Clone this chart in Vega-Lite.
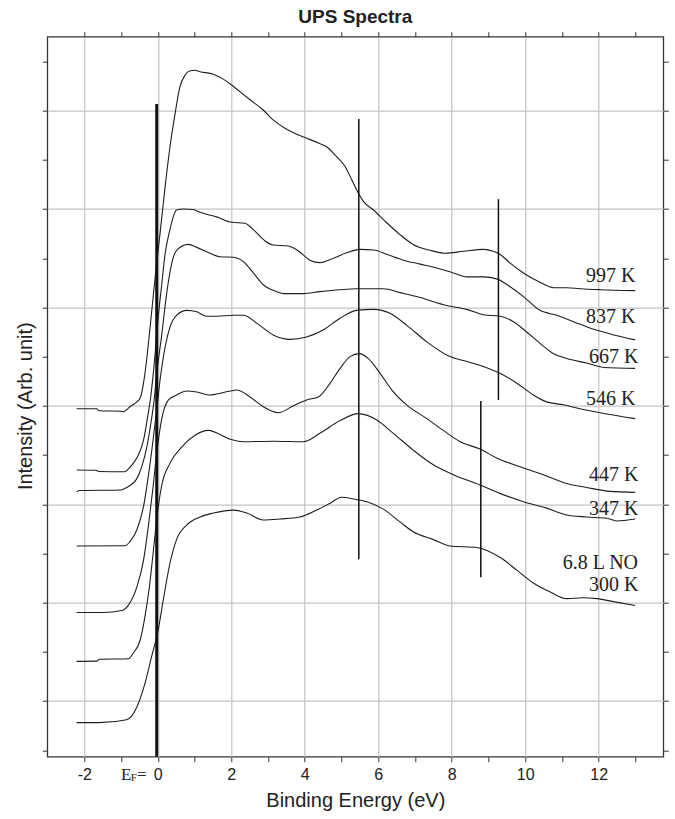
{
  "$schema": "https://vega.github.io/schema/vega-lite/v6.json",
  "width": 616,
  "height": 720,
  "autosize": {"type": "none"},
  "padding": {"left": 47.3, "top": 36.7, "right": 11.7, "bottom": 62.3},
  "background": "white",
  "title": {"text": "UPS Spectra", "font": "Liberation Sans", "fontSize": 19, "fontWeight": "bold", "color": "#222", "anchor": "middle", "offset": 4},
  "config": {
    "view": {"stroke": "#333", "strokeWidth": 1.3},
    "axis": {"labelFont": "Liberation Sans", "titleFont": "Liberation Sans", "tickColor": "#333", "tickWidth": 1, "gridColor": "#c4c4c4", "gridWidth": 1.2}
  },
  "datasets": {
    "spectra": [
      {"s": "997 K", "x": -2.21, "y": 2.97}, {"s": "997 K", "x": -1.66, "y": 2.97}, {"s": "997 K", "x": -1.6, "y": 2.95}, {"s": "997 K", "x": -1.0, "y": 2.945}, {"s": "997 K", "x": -0.94, "y": 2.94}, {"s": "997 K", "x": -0.85, "y": 2.96}, {"s": "997 K", "x": -0.76, "y": 2.99}, {"s": "997 K", "x": -0.57, "y": 3.04}, {"s": "997 K", "x": -0.48, "y": 3.08}, {"s": "997 K", "x": -0.35, "y": 3.33}, {"s": "997 K", "x": -0.21, "y": 3.8}, {"s": "997 K", "x": -0.08, "y": 4.28}, {"s": "997 K", "x": 0.06, "y": 4.75}, {"s": "997 K", "x": 0.2, "y": 5.23}, {"s": "997 K", "x": 0.33, "y": 5.63}, {"s": "997 K", "x": 0.47, "y": 5.97}, {"s": "997 K", "x": 0.6, "y": 6.24}, {"s": "997 K", "x": 0.74, "y": 6.36}, {"s": "997 K", "x": 0.88, "y": 6.405}, {"s": "997 K", "x": 1.0, "y": 6.41}, {"s": "997 K", "x": 1.15, "y": 6.395}, {"s": "997 K", "x": 1.51, "y": 6.37}, {"s": "997 K", "x": 1.78, "y": 6.32}, {"s": "997 K", "x": 2.01, "y": 6.26}, {"s": "997 K", "x": 2.24, "y": 6.19}, {"s": "997 K", "x": 2.51, "y": 6.11}, {"s": "997 K", "x": 2.87, "y": 6.006}, {"s": "997 K", "x": 3.14, "y": 5.905}, {"s": "997 K", "x": 3.46, "y": 5.82}, {"s": "997 K", "x": 3.78, "y": 5.76}, {"s": "997 K", "x": 4.05, "y": 5.72}, {"s": "997 K", "x": 4.37, "y": 5.67}, {"s": "997 K", "x": 4.64, "y": 5.62}, {"s": "997 K", "x": 4.82, "y": 5.55}, {"s": "997 K", "x": 5.1, "y": 5.43}, {"s": "997 K", "x": 5.28, "y": 5.295}, {"s": "997 K", "x": 5.46, "y": 5.16}, {"s": "997 K", "x": 5.59, "y": 5.08}, {"s": "997 K", "x": 5.87, "y": 4.99}, {"s": "997 K", "x": 6.23, "y": 4.86}, {"s": "997 K", "x": 6.59, "y": 4.74}, {"s": "997 K", "x": 6.95, "y": 4.64}, {"s": "997 K", "x": 7.41, "y": 4.58}, {"s": "997 K", "x": 7.82, "y": 4.55}, {"s": "997 K", "x": 8.32, "y": 4.57}, {"s": "997 K", "x": 8.86, "y": 4.59}, {"s": "997 K", "x": 9.13, "y": 4.57}, {"s": "997 K", "x": 9.31, "y": 4.54}, {"s": "997 K", "x": 9.59, "y": 4.45}, {"s": "997 K", "x": 9.95, "y": 4.35}, {"s": "997 K", "x": 10.4, "y": 4.255}, {"s": "997 K", "x": 10.77, "y": 4.2}, {"s": "997 K", "x": 11.13, "y": 4.2}, {"s": "997 K", "x": 11.49, "y": 4.19}, {"s": "997 K", "x": 12.04, "y": 4.18}, {"s": "997 K", "x": 12.99, "y": 4.17},

      {"s": "837 K", "x": -2.21, "y": 2.348}, {"s": "837 K", "x": -1.7, "y": 2.345}, {"s": "837 K", "x": -1.6, "y": 2.333}, {"s": "837 K", "x": -0.9, "y": 2.33}, {"s": "837 K", "x": -0.8, "y": 2.36}, {"s": "837 K", "x": -0.67, "y": 2.415}, {"s": "837 K", "x": -0.53, "y": 2.5}, {"s": "837 K", "x": -0.39, "y": 2.65}, {"s": "837 K", "x": -0.29, "y": 2.86}, {"s": "837 K", "x": -0.19, "y": 3.1}, {"s": "837 K", "x": -0.08, "y": 3.5}, {"s": "837 K", "x": 0.01, "y": 3.9}, {"s": "837 K", "x": 0.1, "y": 4.21}, {"s": "837 K", "x": 0.2, "y": 4.55}, {"s": "837 K", "x": 0.33, "y": 4.79}, {"s": "837 K", "x": 0.42, "y": 4.92}, {"s": "837 K", "x": 0.51, "y": 4.99}, {"s": "837 K", "x": 0.7, "y": 5.0}, {"s": "837 K", "x": 0.96, "y": 4.995}, {"s": "837 K", "x": 1.15, "y": 4.966}, {"s": "837 K", "x": 1.6, "y": 4.92}, {"s": "837 K", "x": 2.01, "y": 4.865}, {"s": "837 K", "x": 2.37, "y": 4.855}, {"s": "837 K", "x": 2.6, "y": 4.79}, {"s": "837 K", "x": 2.92, "y": 4.675}, {"s": "837 K", "x": 3.14, "y": 4.634}, {"s": "837 K", "x": 3.55, "y": 4.624}, {"s": "837 K", "x": 3.82, "y": 4.576}, {"s": "837 K", "x": 4.14, "y": 4.48}, {"s": "837 K", "x": 4.41, "y": 4.455}, {"s": "837 K", "x": 4.78, "y": 4.5}, {"s": "837 K", "x": 5.14, "y": 4.556}, {"s": "837 K", "x": 5.5, "y": 4.59}, {"s": "837 K", "x": 5.87, "y": 4.583}, {"s": "837 K", "x": 6.23, "y": 4.54}, {"s": "837 K", "x": 6.68, "y": 4.48}, {"s": "837 K", "x": 7.14, "y": 4.44}, {"s": "837 K", "x": 7.59, "y": 4.4}, {"s": "837 K", "x": 8.04, "y": 4.35}, {"s": "837 K", "x": 8.41, "y": 4.31}, {"s": "837 K", "x": 8.86, "y": 4.31}, {"s": "837 K", "x": 9.22, "y": 4.29}, {"s": "837 K", "x": 9.59, "y": 4.21}, {"s": "837 K", "x": 9.95, "y": 4.11}, {"s": "837 K", "x": 10.4, "y": 3.97}, {"s": "837 K", "x": 10.86, "y": 3.92}, {"s": "837 K", "x": 11.31, "y": 3.855}, {"s": "837 K", "x": 11.76, "y": 3.79}, {"s": "837 K", "x": 12.31, "y": 3.73}, {"s": "837 K", "x": 12.99, "y": 3.67},

      {"s": "667 K", "x": -2.21, "y": 2.13}, {"s": "667 K", "x": -2.1, "y": 2.14}, {"s": "667 K", "x": -1.0, "y": 2.145}, {"s": "667 K", "x": -0.9, "y": 2.16}, {"s": "667 K", "x": -0.76, "y": 2.19}, {"s": "667 K", "x": -0.57, "y": 2.26}, {"s": "667 K", "x": -0.44, "y": 2.38}, {"s": "667 K", "x": -0.3, "y": 2.58}, {"s": "667 K", "x": -0.19, "y": 2.82}, {"s": "667 K", "x": -0.1, "y": 3.06}, {"s": "667 K", "x": -0.03, "y": 3.33}, {"s": "667 K", "x": 0.1, "y": 3.7}, {"s": "667 K", "x": 0.24, "y": 4.14}, {"s": "667 K", "x": 0.38, "y": 4.45}, {"s": "667 K", "x": 0.51, "y": 4.58}, {"s": "667 K", "x": 0.83, "y": 4.64}, {"s": "667 K", "x": 1.06, "y": 4.61}, {"s": "667 K", "x": 1.42, "y": 4.55}, {"s": "667 K", "x": 1.69, "y": 4.515}, {"s": "667 K", "x": 2.06, "y": 4.51}, {"s": "667 K", "x": 2.33, "y": 4.465}, {"s": "667 K", "x": 2.6, "y": 4.35}, {"s": "667 K", "x": 2.87, "y": 4.23}, {"s": "667 K", "x": 3.24, "y": 4.16}, {"s": "667 K", "x": 3.42, "y": 4.14}, {"s": "667 K", "x": 3.96, "y": 4.14}, {"s": "667 K", "x": 4.41, "y": 4.16}, {"s": "667 K", "x": 4.96, "y": 4.18}, {"s": "667 K", "x": 5.41, "y": 4.19}, {"s": "667 K", "x": 6.14, "y": 4.19}, {"s": "667 K", "x": 6.59, "y": 4.15}, {"s": "667 K", "x": 7.14, "y": 4.1}, {"s": "667 K", "x": 7.86, "y": 4.02}, {"s": "667 K", "x": 8.41, "y": 3.98}, {"s": "667 K", "x": 8.86, "y": 3.925}, {"s": "667 K", "x": 9.31, "y": 3.91}, {"s": "667 K", "x": 9.68, "y": 3.855}, {"s": "667 K", "x": 10.04, "y": 3.75}, {"s": "667 K", "x": 10.4, "y": 3.635}, {"s": "667 K", "x": 10.77, "y": 3.53}, {"s": "667 K", "x": 11.13, "y": 3.48}, {"s": "667 K", "x": 11.67, "y": 3.435}, {"s": "667 K", "x": 12.13, "y": 3.39}, {"s": "667 K", "x": 12.99, "y": 3.38},

      {"s": "546 K", "x": -2.21, "y": 1.575}, {"s": "546 K", "x": -0.89, "y": 1.578}, {"s": "546 K", "x": -0.76, "y": 1.62}, {"s": "546 K", "x": -0.57, "y": 1.74}, {"s": "546 K", "x": -0.39, "y": 1.975}, {"s": "546 K", "x": -0.26, "y": 2.28}, {"s": "546 K", "x": -0.14, "y": 2.62}, {"s": "546 K", "x": -0.03, "y": 2.96}, {"s": "546 K", "x": 0.06, "y": 3.26}, {"s": "546 K", "x": 0.2, "y": 3.6}, {"s": "546 K", "x": 0.33, "y": 3.8}, {"s": "546 K", "x": 0.51, "y": 3.92}, {"s": "546 K", "x": 0.79, "y": 3.97}, {"s": "546 K", "x": 1.06, "y": 3.955}, {"s": "546 K", "x": 1.33, "y": 3.91}, {"s": "546 K", "x": 1.6, "y": 3.91}, {"s": "546 K", "x": 2.06, "y": 3.92}, {"s": "546 K", "x": 2.33, "y": 3.92}, {"s": "546 K", "x": 2.69, "y": 3.84}, {"s": "546 K", "x": 3.14, "y": 3.72}, {"s": "546 K", "x": 3.6, "y": 3.675}, {"s": "546 K", "x": 4.05, "y": 3.7}, {"s": "546 K", "x": 4.5, "y": 3.77}, {"s": "546 K", "x": 4.96, "y": 3.89}, {"s": "546 K", "x": 5.41, "y": 3.97}, {"s": "546 K", "x": 5.87, "y": 3.98}, {"s": "546 K", "x": 6.32, "y": 3.94}, {"s": "546 K", "x": 6.77, "y": 3.82}, {"s": "546 K", "x": 7.32, "y": 3.65}, {"s": "546 K", "x": 7.95, "y": 3.5}, {"s": "546 K", "x": 8.41, "y": 3.45}, {"s": "546 K", "x": 8.86, "y": 3.4}, {"s": "546 K", "x": 9.31, "y": 3.33}, {"s": "546 K", "x": 9.77, "y": 3.23}, {"s": "546 K", "x": 10.22, "y": 3.11}, {"s": "546 K", "x": 10.58, "y": 3.04}, {"s": "546 K", "x": 11.04, "y": 3.01}, {"s": "546 K", "x": 11.49, "y": 2.97}, {"s": "546 K", "x": 12.04, "y": 2.93}, {"s": "546 K", "x": 12.99, "y": 2.87},

      {"s": "447 K", "x": -2.21, "y": 0.9}, {"s": "447 K", "x": -1.5, "y": 0.9}, {"s": "447 K", "x": -0.98, "y": 0.92}, {"s": "447 K", "x": -0.8, "y": 0.975}, {"s": "447 K", "x": -0.57, "y": 1.16}, {"s": "447 K", "x": -0.39, "y": 1.43}, {"s": "447 K", "x": -0.26, "y": 1.77}, {"s": "447 K", "x": -0.14, "y": 2.14}, {"s": "447 K", "x": -0.03, "y": 2.52}, {"s": "447 K", "x": 0.1, "y": 2.855}, {"s": "447 K", "x": 0.29, "y": 3.06}, {"s": "447 K", "x": 0.51, "y": 3.11}, {"s": "447 K", "x": 0.79, "y": 3.15}, {"s": "447 K", "x": 1.06, "y": 3.14}, {"s": "447 K", "x": 1.42, "y": 3.11}, {"s": "447 K", "x": 1.6, "y": 3.12}, {"s": "447 K", "x": 1.97, "y": 3.15}, {"s": "447 K", "x": 2.15, "y": 3.16}, {"s": "447 K", "x": 2.51, "y": 3.09}, {"s": "447 K", "x": 2.87, "y": 2.99}, {"s": "447 K", "x": 3.28, "y": 2.93}, {"s": "447 K", "x": 3.69, "y": 3.0}, {"s": "447 K", "x": 4.05, "y": 3.06}, {"s": "447 K", "x": 4.37, "y": 3.09}, {"s": "447 K", "x": 4.69, "y": 3.23}, {"s": "447 K", "x": 4.96, "y": 3.38}, {"s": "447 K", "x": 5.23, "y": 3.5}, {"s": "447 K", "x": 5.48, "y": 3.53}, {"s": "447 K", "x": 5.73, "y": 3.48}, {"s": "447 K", "x": 6.05, "y": 3.33}, {"s": "447 K", "x": 6.37, "y": 3.16}, {"s": "447 K", "x": 6.77, "y": 3.01}, {"s": "447 K", "x": 7.32, "y": 2.87}, {"s": "447 K", "x": 7.77, "y": 2.75}, {"s": "447 K", "x": 8.23, "y": 2.635}, {"s": "447 K", "x": 8.77, "y": 2.56}, {"s": "447 K", "x": 9.22, "y": 2.47}, {"s": "447 K", "x": 9.86, "y": 2.38}, {"s": "447 K", "x": 10.49, "y": 2.3}, {"s": "447 K", "x": 11.13, "y": 2.21}, {"s": "447 K", "x": 11.67, "y": 2.17}, {"s": "447 K", "x": 12.31, "y": 2.13}, {"s": "447 K", "x": 12.99, "y": 2.12},

      {"s": "347 K", "x": -2.21, "y": 0.403}, {"s": "347 K", "x": -1.65, "y": 0.405}, {"s": "347 K", "x": -1.6, "y": 0.425}, {"s": "347 K", "x": -0.8, "y": 0.43}, {"s": "347 K", "x": -0.67, "y": 0.485}, {"s": "347 K", "x": -0.48, "y": 0.62}, {"s": "347 K", "x": -0.35, "y": 0.857}, {"s": "347 K", "x": -0.23, "y": 1.16}, {"s": "347 K", "x": -0.12, "y": 1.53}, {"s": "347 K", "x": -0.01, "y": 1.91}, {"s": "347 K", "x": 0.1, "y": 2.18}, {"s": "347 K", "x": 0.33, "y": 2.415}, {"s": "347 K", "x": 0.65, "y": 2.58}, {"s": "347 K", "x": 1.01, "y": 2.7}, {"s": "347 K", "x": 1.37, "y": 2.75}, {"s": "347 K", "x": 1.97, "y": 2.66}, {"s": "347 K", "x": 2.33, "y": 2.635}, {"s": "347 K", "x": 3.14, "y": 2.64}, {"s": "347 K", "x": 3.96, "y": 2.635}, {"s": "347 K", "x": 4.41, "y": 2.72}, {"s": "347 K", "x": 4.96, "y": 2.85}, {"s": "347 K", "x": 5.46, "y": 2.92}, {"s": "347 K", "x": 5.96, "y": 2.855}, {"s": "347 K", "x": 6.41, "y": 2.72}, {"s": "347 K", "x": 6.95, "y": 2.55}, {"s": "347 K", "x": 7.5, "y": 2.4}, {"s": "347 K", "x": 8.04, "y": 2.3}, {"s": "347 K", "x": 8.77, "y": 2.195}, {"s": "347 K", "x": 9.31, "y": 2.11}, {"s": "347 K", "x": 9.95, "y": 2.025}, {"s": "347 K", "x": 10.58, "y": 1.96}, {"s": "347 K", "x": 11.13, "y": 1.89}, {"s": "347 K", "x": 11.67, "y": 1.87}, {"s": "347 K", "x": 12.22, "y": 1.857}, {"s": "347 K", "x": 12.49, "y": 1.83}, {"s": "347 K", "x": 12.99, "y": 1.85},

      {"s": "300 K", "x": -2.21, "y": -0.22}, {"s": "300 K", "x": -1.6, "y": -0.22}, {"s": "300 K", "x": -0.85, "y": -0.19}, {"s": "300 K", "x": -0.57, "y": -0.06}, {"s": "300 K", "x": -0.35, "y": 0.18}, {"s": "300 K", "x": -0.17, "y": 0.45}, {"s": "300 K", "x": 0.01, "y": 0.72}, {"s": "300 K", "x": 0.15, "y": 1.03}, {"s": "300 K", "x": 0.33, "y": 1.4}, {"s": "300 K", "x": 0.51, "y": 1.64}, {"s": "300 K", "x": 0.79, "y": 1.79}, {"s": "300 K", "x": 1.15, "y": 1.87}, {"s": "300 K", "x": 1.51, "y": 1.91}, {"s": "300 K", "x": 2.06, "y": 1.94}, {"s": "300 K", "x": 2.42, "y": 1.91}, {"s": "300 K", "x": 2.87, "y": 1.84}, {"s": "300 K", "x": 3.33, "y": 1.85}, {"s": "300 K", "x": 3.87, "y": 1.87}, {"s": "300 K", "x": 4.32, "y": 1.94}, {"s": "300 K", "x": 4.69, "y": 2.01}, {"s": "300 K", "x": 5.0, "y": 2.07}, {"s": "300 K", "x": 5.37, "y": 2.05}, {"s": "300 K", "x": 5.69, "y": 2.025}, {"s": "300 K", "x": 6.14, "y": 1.95}, {"s": "300 K", "x": 6.59, "y": 1.82}, {"s": "300 K", "x": 6.95, "y": 1.72}, {"s": "300 K", "x": 7.5, "y": 1.64}, {"s": "300 K", "x": 7.95, "y": 1.575}, {"s": "300 K", "x": 8.68, "y": 1.56}, {"s": "300 K", "x": 9.31, "y": 1.46}, {"s": "300 K", "x": 9.77, "y": 1.33}, {"s": "300 K", "x": 10.22, "y": 1.2}, {"s": "300 K", "x": 10.67, "y": 1.11}, {"s": "300 K", "x": 11.13, "y": 1.04}, {"s": "300 K", "x": 11.58, "y": 1.05}, {"s": "300 K", "x": 11.95, "y": 1.04}, {"s": "300 K", "x": 12.4, "y": 1.01}, {"s": "300 K", "x": 12.99, "y": 0.97}
    ],
    "labels": [
      {"label": "997 K", "x": 13.0, "y": 4.255},
      {"label": "837 K", "x": 13.0, "y": 3.845},
      {"label": "667 K", "x": 13.08, "y": 3.43},
      {"label": "546 K", "x": 13.0, "y": 3.008},
      {"label": "447 K", "x": 13.08, "y": 2.239},
      {"label": "347 K", "x": 13.08, "y": 1.89},
      {"label": "6.8 L NO", "x": 13.07, "y": 1.341},
      {"label": "300 K", "x": 13.08, "y": 1.121}
    ],
    "marks": [
      {"x": 5.47, "y": 1.44, "y2": 5.915},
      {"x": 9.27, "y": 3.06, "y2": 5.1},
      {"x": 8.79, "y": 1.257, "y2": 3.05}
    ],
    "fermi": [
      {"x": -0.03, "y": -0.566, "y2": 6.067}
    ]
  },
  "resolve": {"scale": {"x": "shared", "y": "shared"}, "axis": {"x": "independent", "y": "independent"}},
  "layer": [
    {
      "data": {"name": "spectra"},
      "mark": {"type": "line", "color": "#1e1e1e", "strokeWidth": 1.1, "interpolate": "monotone"},
      "encoding": {
        "x": {"field": "x", "type": "quantitative",
          "scale": {"domain": [-3.008, 13.757], "nice": false, "zero": false},
          "axis": {"orient": "bottom", "values": [-2, -1, 0, 1, 2, 3, 4, 5, 6, 7, 8, 9, 10, 11, 12, 13],
            "grid": true, "gridOpacity": {"condition": {"test": "datum.value % 2 === 0", "value": 1}, "value": 0},
            "domain": false, "ticks": true, "tickSize": 5,
            "labelExpr": "datum.value % 2 !== 0 ? '' : (datum.value < 0 ? '-' + abs(datum.value) : '' + datum.value)",
            "labelFontSize": 16, "labelColor": "#222", "labelPadding": 5, "labelDx": 2, "labelFlush": false, "labelOverlap": false,
            "title": "Binding Energy (eV)", "titleFontSize": 20, "titleFontWeight": "normal", "titleColor": "#222", "titlePadding": 8}},
        "y": {"field": "y", "type": "quantitative",
          "scale": {"domain": [-0.566, 6.751], "nice": false, "zero": false},
          "axis": {"orient": "left", "values": [-0.5, 0, 0.5, 1, 1.5, 2, 2.5, 3, 3.5, 4, 4.5, 5, 5.5, 6, 6.5],
            "grid": true, "gridOpacity": {"condition": {"test": "datum.value % 1 === 0", "value": 1}, "value": 0},
            "domain": false, "labels": false, "tickSize": 5,
            "title": "Intensity (Arb. unit)", "titleFontSize": 20, "titleFontWeight": "normal", "titleColor": "#222", "titlePadding": 6, "titleY": 369}},
        "detail": {"field": "s"}
      }
    },
    {
      "data": {"name": "marks"},
      "mark": {"type": "rule", "color": "#111", "strokeWidth": 1.5},
      "encoding": {
        "x": {"field": "x", "type": "quantitative", "scale": {"domain": [-3.008, 13.757], "nice": false, "zero": false},
          "axis": {"orient": "top", "values": [-2, -1, 0, 1, 2, 3, 4, 5, 6, 7, 8, 9, 10, 11, 12, 13], "grid": false, "domain": false, "labels": false, "tickSize": 5, "title": null}},
        "y": {"field": "y", "type": "quantitative", "scale": {"domain": [-0.566, 6.751], "nice": false, "zero": false},
          "axis": {"orient": "right", "values": [-0.5, 0, 0.5, 1, 1.5, 2, 2.5, 3, 3.5, 4, 4.5, 5, 5.5, 6, 6.5], "grid": false, "domain": false, "labels": false, "tickSize": 5, "title": null}},
        "y2": {"field": "y2"}
      }
    },
    {
      "data": {"name": "fermi"},
      "mark": {"type": "rule", "color": "#111", "strokeWidth": 3},
      "encoding": {
        "x": {"field": "x", "type": "quantitative", "scale": {"domain": [-3.008, 13.757], "nice": false, "zero": false}, "axis": null},
        "y": {"field": "y", "type": "quantitative", "scale": {"domain": [-0.566, 6.751], "nice": false, "zero": false}, "axis": null},
        "y2": {"field": "y2"}
      }
    },
    {
      "data": {"name": "labels"},
      "mark": {"type": "text", "font": "Liberation Serif", "fontSize": 20, "color": "#222", "align": "right", "baseline": "alphabetic"},
      "encoding": {
        "x": {"field": "x", "type": "quantitative", "scale": {"domain": [-3.008, 13.757], "nice": false, "zero": false}, "axis": null},
        "y": {"field": "y", "type": "quantitative", "scale": {"domain": [-0.566, 6.751], "nice": false, "zero": false}, "axis": null},
        "text": {"field": "label"}
      }
    },
    {
      "data": {"values": [{"t": "E", "x": -1.0, "y": -0.803}, {"t": "=", "x": -0.566, "y": -0.803}]},
      "mark": {"type": "text", "font": "Liberation Serif", "fontSize": 17, "color": "#222", "align": "left", "baseline": "alphabetic"},
      "encoding": {
        "x": {"field": "x", "type": "quantitative", "scale": {"domain": [-3.008, 13.757], "nice": false, "zero": false}, "axis": null},
        "y": {"field": "y", "type": "quantitative", "scale": {"domain": [-0.566, 6.751], "nice": false, "zero": false}, "axis": null},
        "text": {"field": "t"}
      }
    },
    {
      "data": {"values": [{"t": "F", "x": -0.738, "y": -0.81}]},
      "mark": {"type": "text", "font": "Liberation Serif", "fontSize": 11, "color": "#222", "align": "left", "baseline": "alphabetic"},
      "encoding": {
        "x": {"field": "x", "type": "quantitative", "scale": {"domain": [-3.008, 13.757], "nice": false, "zero": false}, "axis": null},
        "y": {"field": "y", "type": "quantitative", "scale": {"domain": [-0.566, 6.751], "nice": false, "zero": false}, "axis": null},
        "text": {"field": "t"}
      }
    }
  ]
}
